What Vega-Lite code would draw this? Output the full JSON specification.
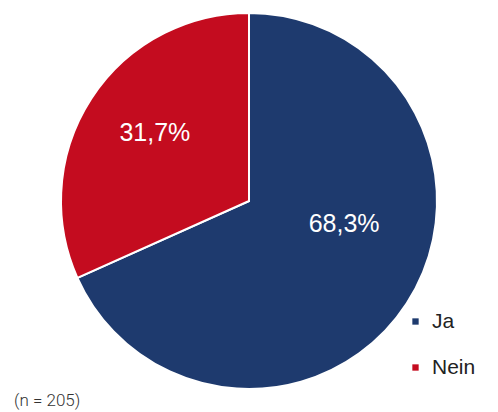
{
  "$schema": "https://vega.github.io/schema/vega-lite/v6.json",
  "width": 498,
  "height": 402,
  "padding": {"top": 0, "left": 0, "right": 0, "bottom": 10},
  "autosize": {"type": "none"},
  "background": "white",
  "config": {"view": {"stroke": null}},
  "title": {
    "text": "(n = 205)",
    "orient": "bottom",
    "anchor": "start",
    "dx": 14,
    "offset": -9,
    "fontSize": 17,
    "font": "Liberation Sans Narrow, Roboto",
    "fontWeight": 300,
    "color": "#333333"
  },
  "data": {
    "values": [
      {"answer": "Ja", "share": 68.3, "label": "68,3%"},
      {"answer": "Nein", "share": 31.7, "label": "31,7%"}
    ]
  },
  "encoding": {
    "theta": {"field": "share", "type": "quantitative", "stack": true},
    "order": {"field": "answer", "type": "nominal"}
  },
  "layer": [
    {
      "mark": {"type": "arc", "radius": 188, "stroke": "white", "strokeWidth": 2},
      "encoding": {
        "color": {
          "field": "answer",
          "type": "nominal",
          "scale": {"domain": ["Ja", "Nein"], "range": ["#1e3a6e", "#c40c1f"]},
          "legend": {
            "title": null,
            "orient": "none",
            "legendX": 405,
            "legendY": 311,
            "symbolType": "square",
            "symbolSize": 40,
            "symbolStrokeWidth": 0,
            "labelFontSize": 21,
            "labelFont": "Liberation Sans, Arial",
            "labelColor": "#222222",
            "labelOffset": 6,
            "rowPadding": 24
          }
        }
      }
    },
    {
      "mark": {"type": "text", "radius": 105, "dx": 7, "dy": -34, "fontSize": 25, "font": "Liberation Sans, Arial", "fill": "white"},
      "encoding": {
        "text": {"condition": {"test": "datum.answer == 'Ja'", "field": "label"}, "value": ""}
      }
    },
    {
      "mark": {"type": "text", "radius": 105, "dx": -6, "dy": -11, "fontSize": 25, "font": "Liberation Sans, Arial", "fill": "white"},
      "encoding": {
        "text": {"condition": {"test": "datum.answer == 'Nein'", "field": "label"}, "value": ""}
      }
    }
  ]
}
